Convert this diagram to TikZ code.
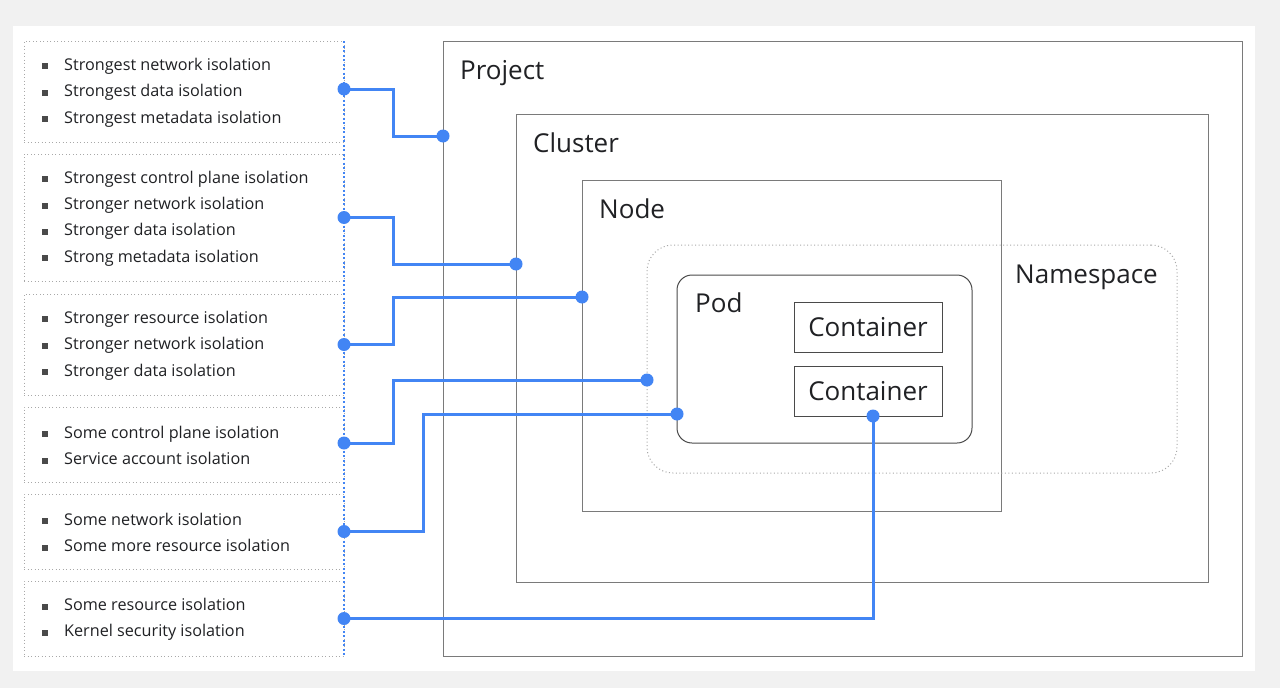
\documentclass[tikz,border=0pt]{standalone}
\usepackage{fontspec}
\setmainfont{Open Sans}
\usetikzlibrary{positioning,calc}

\definecolor{linkblue}{HTML}{4285F4}
\definecolor{boxgray}{HTML}{7A7A7A}
\definecolor{podgray}{HTML}{4A4A4A}
\definecolor{dotgray}{HTML}{A8A8A8}
\definecolor{textdark}{HTML}{202124}
\definecolor{pagegray}{HTML}{F1F1F1}

\newcommand{\sqbullet}{\textcolor{podgray}{\rule[1pt]{6pt}{6pt}}\hspace{16pt}}

\begin{document}
\begin{tikzpicture}[x=1pt, y=-1pt,
    box/.style={draw=boxgray, line width=1pt, inner sep=0pt, outer sep=0pt, anchor=north west},
    podbox/.style={draw=podgray, line width=1pt, rounded corners=15pt, inner sep=0pt, outer sep=0pt, anchor=north west},
    nsbox/.style={draw=dotgray, line width=1pt, dash pattern=on 1pt off 2.5pt, rounded corners=26pt, inner sep=0pt, outer sep=0pt, anchor=north west},
    cbox/.style={draw=podgray, line width=1pt, minimum width=148pt, minimum height=50pt, inner sep=0pt, outer sep=0pt, anchor=north west, font=\fontsize{26}{28}\selectfont, text=textdark},
    label/.style={anchor=base west, inner sep=0pt, font=\fontsize{26}{28}\selectfont, text=textdark},
    group/.style={draw=dotgray, line width=1pt, dash pattern=on 1pt off 2.5pt, minimum width=320pt, inner sep=0pt, outer sep=0pt, anchor=north west},
    list/.style={anchor=west, inner sep=0pt, align=left, font=\fontsize{16.2}{26.3}\selectfont, text=textdark},
    link/.style={draw=linkblue, line width=3pt},
    dot/.style={circle, fill=linkblue, inner sep=0pt, minimum size=13pt}
]
    \fill[pagegray] (0,0) rectangle (1280,688);
    \useasboundingbox (0,0) rectangle (1280,688);
    \fill[white] (13,26) rectangle (1255,671);

    % nested boxes
    \node[box, minimum width=799pt, minimum height=615pt] (project) at (443,41) {};
    \node[box, minimum width=692pt, minimum height=468pt] (cluster) at (516,114) {};
    \node[box, minimum width=419pt, minimum height=331pt] (node) at (582,180) {};
    \node[nsbox, minimum width=530pt, minimum height=228pt] (namespace) at (647,245) {};
    \node[podbox, minimum width=295pt, minimum height=168pt] (pod) at (677,275) {};
    \node[cbox] (container1) at (794,302) {Container};
    \node[cbox] (container2) at (794,366) {Container};

    \node[label] (project-label) at ([xshift=17pt,yshift=-38pt]project.north west) {Project};
    \node[label] (cluster-label) at ([xshift=17pt,yshift=-38pt]cluster.north west) {Cluster};
    \node[label] (node-label) at ([xshift=17pt,yshift=-38pt]node.north west) {Node};
    \node[label] (pod-label) at ([xshift=18pt,yshift=-37.5pt]pod.north west) {Pod};
    \node[label, anchor=base east] (namespace-label) at ([xshift=-19pt,yshift=-38.5pt]namespace.north east) {Namespace};

    % isolation groups
    \node[group, minimum height=101pt] (g1) at (24,41) {};
    \node[group, minimum height=127pt] (g2) at (24,154) {};
    \node[group, minimum height=101pt] (g3) at (24,294) {};
    \node[group, minimum height=75pt] (g4) at (24,407) {};
    \node[group, minimum height=75pt] (g5) at (24,494) {};
    \node[group, minimum height=75pt] (g6) at (24,581) {};

    \node[list] (l1) at ([xshift=18pt,yshift=-1pt]g1.west) {\sqbullet Strongest network isolation\\ \sqbullet Strongest data isolation\\ \sqbullet Strongest metadata isolation};
    \node[list] (l2) at ([xshift=18pt,yshift=-1pt]g2.west) {\sqbullet Strongest control plane isolation\\ \sqbullet Stronger network isolation\\ \sqbullet Stronger data isolation\\ \sqbullet Strong metadata isolation};
    \node[list] (l3) at ([xshift=18pt,yshift=-1pt]g3.west) {\sqbullet Stronger resource isolation\\ \sqbullet Stronger network isolation\\ \sqbullet Stronger data isolation};
    \node[list] (l4) at ([xshift=18pt,yshift=-1pt]g4.west) {\sqbullet Some control plane isolation\\ \sqbullet Service account isolation};
    \node[list] (l5) at ([xshift=18pt,yshift=-1pt]g5.west) {\sqbullet Some network isolation\\ \sqbullet Some more resource isolation};
    \node[list] (l6) at ([xshift=18pt,yshift=-1pt]g6.west) {\sqbullet Some resource isolation\\ \sqbullet Kernel security isolation};

    \draw[linkblue, line width=2pt, dash pattern=on 2pt off 2.5pt] (g1.north east) -- (g6.south east);

    % end points
    \node[dot] (s1) at ([yshift=2.5pt]g1.east) {};
    \node[dot] (s2) at (g2.east) {};
    \node[dot] (s3) at (g3.east) {};
    \node[dot] (s4) at ([yshift=1.5pt]g4.east) {};
    \node[dot] (s5) at (g5.east) {};
    \node[dot] (s6) at (g6.east) {};

    \node[dot] (t1) at ([yshift=-95pt]project.north west) {};
    \node[dot] (t2) at ([yshift=-150pt]cluster.north west) {};
    \node[dot] (t3) at ([yshift=-117pt]node.north west) {};
    \node[dot] (t4) at ([yshift=-135pt]namespace.north west) {};
    \node[dot] (t5) at ([yshift=-139pt]pod.north west) {};
    \node[dot] (t6) at ([xshift=5pt]container2.south) {};

    % connectors
    \draw[link] (s1.center) -- ++(49,0) |- (t1.center);
    \draw[link] (s2.center) -- ++(49,0) |- (t2.center);
    \draw[link] (s3.center) -- ++(49,0) |- (t3.center);
    \draw[link] (s4.center) -- ++(49,0) |- (t4.center);
    \draw[link] (s5.center) -- ++(79,0) |- (t5.center);
    \draw[link] (s6.center) -| (t6.center);
\end{tikzpicture}
\end{document}
